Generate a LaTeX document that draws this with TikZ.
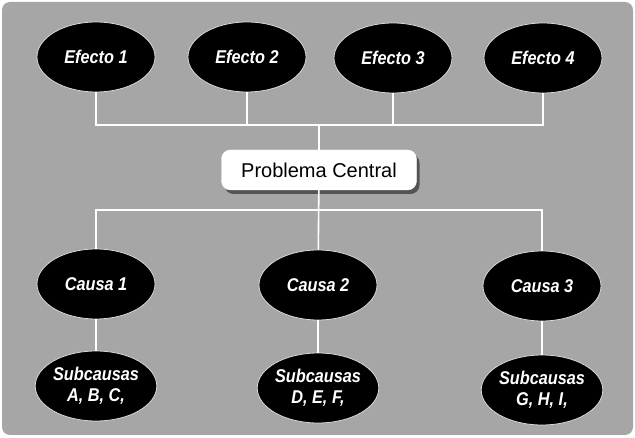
\documentclass[tikz,border=0pt]{standalone}
\usepackage{fontspec}
\setmainfont{Liberation Sans}
\newfontfamily\narrowsans[FakeStretch=0.88]{Liberation Sans}
\usetikzlibrary{shapes.geometric,shadows}
\definecolor{bggray}{HTML}{A6A6A6}
\tikzset{
  oval/.style={ellipse, fill=black, draw=white!85!black, line width=0.8pt,
    minimum width=118pt, minimum height=70pt, inner sep=0pt,
    text=white, align=center, font=\narrowsans\fontsize{18.5}{21}\selectfont\bfseries\itshape},
  central/.style={rectangle, rounded corners=9pt, fill=white, draw=white,
    minimum width=195pt, minimum height=40pt, inner sep=0pt,
    font=\fontsize{20}{22}\selectfont,
    drop shadow={shadow xshift=3pt, shadow yshift=-4pt, fill=black!75, opacity=0.8}},
  conn/.style={draw=white, line width=1.6pt}
}
\begin{document}
\begin{tikzpicture}[x=1pt,y=-1pt]
\useasboundingbox (0,0) rectangle (635,438);
\fill[white] (0,0) rectangle (635,438);
\fill[bggray, rounded corners=8pt] (2,2) rectangle (633,435);
\node[oval] (e1) at (96,57) {Efecto 1};
\node[oval] (e2) at (247,57) {Efecto 2};
\node[oval] (e3) at (393,58) {Efecto 3};
\node[oval] (e4) at (543,58) {Efecto 4};
\node[central] (pc) at (319,170) {Problema Central};
\node[oval] (c1) at (96,284) {Causa 1};
\node[oval] (c2) at (318,285) {Causa 2};
\node[oval] (c3) at (542,286) {Causa 3};
\node[oval] (s1) at (96,386) {Subcausas\\A, B, C,};
\node[oval] (s2) at (318,388) {Subcausas\\D, E, F,};
\node[oval] (s3) at (542,390) {Subcausas\\G, H, I,};
\coordinate (tb) at (319,125);
\coordinate (bb) at (319,210);
\draw[conn] (e1) -- (e1 |- tb) -- (e4 |- tb) -- (e4);
\draw[conn] (e2) -- (e2 |- tb);
\draw[conn] (e3) -- (e3 |- tb);
\draw[conn] (pc) -- (tb);
\draw[conn] (c1) -- (c1 |- bb) -- (c3 |- bb) -- (c3);
\draw[conn] (pc) -- (c2);
\draw[conn] (c1) -- (s1);
\draw[conn] (c2) -- (s2);
\draw[conn] (c3) -- (s3);
\end{tikzpicture}
\end{document}
